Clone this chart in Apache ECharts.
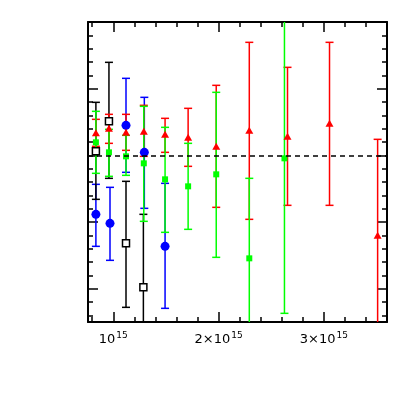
<!DOCTYPE html>
<html>
<head>
<meta charset="utf-8">
<script src="https://cdn.jsdelivr.net/npm/echarts@6/dist/echarts.min.js"></script>
<style>
  html, body { margin: 0; padding: 0; background: #fff; }
  #chart { width: 409px; height: 409px; }
</style>
</head>
<body>
<div id="chart"></div>
<script>
// x in units of 10^15, y is a ratio (dashed line at 1)
const blackX  = [0.835, 0.959, 1.121, 1.286];
const blackY  = [1.012, 1.102, 0.736, 0.604];
const blackLo = [0.868, 0.931, 0.544, 0.385];
const blackHi = [1.159, 1.279, 0.922, 0.823];

const blueX  = [0.835, 0.969, 1.121, 1.295, 1.492];
const blueY  = [0.823, 0.796, 1.090, 1.009, 0.727];
const blueLo = [0.727, 0.685, 0.949, 0.841, 0.541];
const blueHi = [0.913, 0.904, 1.231, 1.174, 0.916];

const greenX  = [0.835, 0.959, 1.121, 1.290, 1.492, 1.711, 1.978, 2.292, 2.626];
const greenY  = [1.039, 1.009, 0.997, 0.976, 0.928, 0.907, 0.943, 0.691, 0.991];
const greenLo = [0.946, 0.937, 0.940, 0.802, 0.769, 0.778, 0.694, 0.451, 0.526];
const greenHi = [1.132, 1.078, 1.060, 1.147, 1.084, 1.036, 1.189, 0.931, 1.456];

const redX  = [0.835, 0.959, 1.121, 1.290, 1.492, 1.711, 1.978, 2.292, 2.655, 3.054, 3.511];
const redY  = [1.068, 1.081, 1.069, 1.072, 1.063, 1.054, 1.027, 1.075, 1.057, 1.096, 0.760];
const redLo = [1.027, 1.036, 1.015, 0.997, 1.009, 0.967, 0.844, 0.808, 0.850, 0.850, 0.472];
const redHi = [1.108, 1.123, 1.123, 1.150, 1.111, 1.141, 1.210, 1.339, 1.264, 1.339, 1.048];

const xMajor = [1, 2, 3];
const xMinor = [0.8, 1.2, 1.4, 1.6, 1.8, 2.2, 2.4, 2.6, 2.8, 3.2, 3.4];
const yMajor = [0.6, 0.8, 1.0, 1.2];
const yMinor = [];
for (let i = 13; i <= 34; i++) {
  if (i % 5 !== 0) yMinor.push(+(i * 0.04).toFixed(2));
}
const refLine = 1.0;

var myChart = echarts.init(document.getElementById('chart'));

function rows(xs, ys, lo, hi) {
  return xs.map((x, i) => [x, ys[i], lo[i], hi[i]]);
}

function errBars(color, data) {
  return {
    type: 'custom',
    clip: true,
    silent: true,
    data: data,
    renderItem: function (params, api) {
      const x = api.value(0);
      const pLo = api.coord([x, api.value(2)]);
      const pHi = api.coord([x, api.value(3)]);
      const w = 4;
      const style = { stroke: color, lineWidth: 1.5 };
      return {
        type: 'group',
        children: [
          { type: 'line', shape: { x1: pLo[0], y1: pLo[1], x2: pHi[0], y2: pHi[1] }, style: style },
          { type: 'line', shape: { x1: pHi[0] - w, y1: pHi[1], x2: pHi[0] + w, y2: pHi[1] }, style: style },
          { type: 'line', shape: { x1: pLo[0] - w, y1: pLo[1], x2: pLo[0] + w, y2: pLo[1] }, style: style }
        ]
      };
    }
  };
}

function marks(data, symbol, size, itemStyle) {
  return {
    type: 'scatter',
    silent: true,
    symbol: symbol,
    symbolSize: size,
    itemStyle: Object.assign({ opacity: 1 }, itemStyle),
    data: data.map(r => [r[0], r[1]])
  };
}

function xAx(pos, ticks, len, showLine, showLabel) {
  return {
    type: 'value', position: pos, min: 0.76, max: 3.6,
    splitLine: { show: false },
    axisLine: { show: showLine, onZero: false, lineStyle: { color: '#000', width: 2 } },
    axisTick: { show: true, inside: true, length: len, customValues: ticks, lineStyle: { color: '#000', width: 1.5 } },
    axisLabel: {
      show: showLabel, customValues: xMajor, margin: 9,
      formatter: v => v === 1 ? '{b|10}{s|15}' : '{b|' + v + '×10}{s|15}',
      rich: {
        b: { fontSize: 13, fontFamily: 'DejaVu Sans', color: '#000', lineHeight: 15, verticalAlign: 'bottom' },
        s: { fontSize: 9, fontFamily: 'DejaVu Sans', color: '#000', lineHeight: 15, verticalAlign: 'top', padding: [0, 0, 4, 1] }
      }
    }
  };
}

function yAx(pos, ticks, len, showLine) {
  return {
    type: 'value', position: pos, min: 0.5, max: 1.4,
    splitLine: { show: false },
    axisLine: { show: showLine, onZero: false, lineStyle: { color: '#000', width: 2 } },
    axisTick: { show: true, inside: true, length: len, customValues: ticks, lineStyle: { color: '#000', width: 1.5 } },
    axisLabel: { show: false }
  };
}

const blackD = rows(blackX, blackY, blackLo, blackHi);
const blueD = rows(blueX, blueY, blueLo, blueHi);
const greenD = rows(greenX, greenY, greenLo, greenHi);
const redD = rows(redX, redY, redLo, redHi);

const option = {
  animation: false,
  grid: { left: 88, top: 22, width: 299, height: 300 },
  xAxis: [
    xAx('bottom', xMinor, 5, true, true),
    xAx('bottom', xMajor, 10, false, false),
    xAx('top', xMinor, 5, true, false),
    xAx('top', xMajor, 10, false, false)
  ],
  yAxis: [
    yAx('left', yMinor, 5, true),
    yAx('left', yMajor, 10, false),
    yAx('right', yMinor, 5, true),
    yAx('right', yMajor, 10, false)
  ],
  series: [
    {
      type: 'line', data: [], silent: true,
      markLine: {
        silent: true, symbol: 'none', label: { show: false },
        lineStyle: { color: '#000', width: 1.5, type: [5, 4] },
        data: [{ yAxis: refLine }]
      }
    },
    errBars('#0000ff', blueD),
    errBars('#000000', blackD),
    errBars('#ff0000', redD),
    errBars('#00ff00', greenD),
    marks(blueD, 'circle', 9, { color: '#0000ff' }),
    marks(blackD, 'rect', 7, { color: '#ffffff', borderColor: '#000', borderWidth: 1.5 }),
    marks(greenD, 'rect', 6, { color: '#00ff00' }),
    marks(redD, 'triangle', [8, 7], { color: '#ff0000' })
  ]
};

myChart.setOption(option);
</script>
</body>
</html>
